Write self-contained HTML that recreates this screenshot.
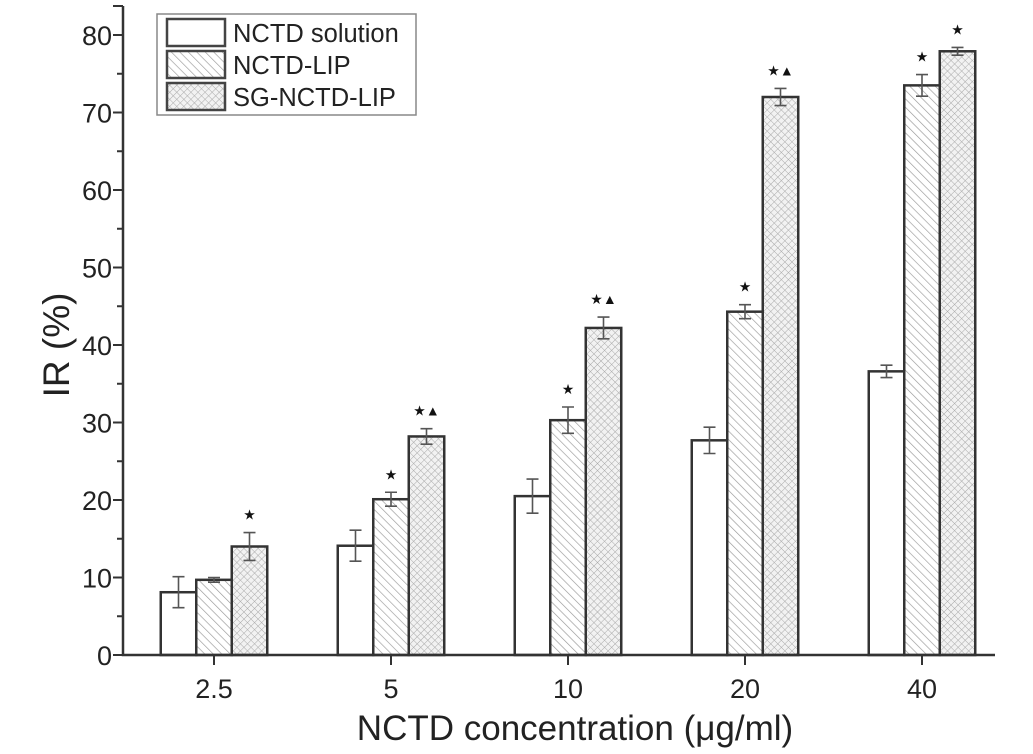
<!DOCTYPE html>
<html><head><meta charset="utf-8"><style>
html,body{margin:0;padding:0;background:#fff;}
svg{display:block;font-family:"Liberation Sans",Arial,sans-serif;}
</style></head><body>
<svg id="chart" width="1033" height="754" viewBox="0 0 1033 754">
<defs>
<pattern id="diag" patternUnits="userSpaceOnUse" width="6" height="6" patternTransform="rotate(-45)">
<rect width="6" height="6" fill="#fff"/><line x1="0" y1="0" x2="0" y2="6" stroke="#999" stroke-width="1.3"/>
</pattern>
<pattern id="cross" patternUnits="userSpaceOnUse" width="5" height="5" patternTransform="rotate(45)">
<rect width="5" height="5" fill="#f2f2f2"/><path d="M0 0V5M0 0H5" stroke="#aaa" stroke-width="1"/>
</pattern>
</defs>
<g id="plot"></g>
<g>
<rect x="157" y="14" width="259" height="101" fill="#fff" stroke="#888" stroke-width="1.5"/>
<rect x="167" y="19" width="58" height="27" fill="#fff" stroke="#444" stroke-width="2.5"/>
<text x="233" y="42" font-size="25.5" fill="#222">NCTD solution</text>
<rect x="167" y="51" width="58" height="27" fill="url(#diag)" stroke="#444" stroke-width="2.5"/>
<text x="233" y="74" font-size="25.5" fill="#222">NCTD-LIP</text>
<rect x="167" y="83" width="58" height="27" fill="url(#cross)" stroke="#444" stroke-width="2.5"/>
<text x="233" y="106" font-size="25.5" fill="#222">SG-NCTD-LIP</text>
</g>
<text transform="translate(69,345) rotate(-90)" text-anchor="middle" font-size="37" fill="#222">IR (%)</text>
<text x="575" y="740" text-anchor="middle" font-size="35" fill="#222">NCTD concentration (μg/ml)</text>
</svg>
<script>
const categories=["2.5","5","10","20","40"];
const solution=[8.1,14.1,20.5,27.7,36.6];
const solutionErr=[2,2,2.2,1.7,0.8];
const lip=[9.7,20.1,30.3,44.3,73.5];
const lipErr=[0.3,0.9,1.7,0.9,1.4];
const sg=[14,28.2,42.2,72,77.9];
const sgErr=[1.8,1,1.4,1.1,0.5];
const lipMarks=["","★","★","★","★"];
const sgMarks=["★","★▲","★▲","★▲","★"];
const yTicks=[0,10,20,30,40,50,60,70,80];

const ns="http://www.w3.org/2000/svg";
const g=document.getElementById('plot');
const y0=655,pxPer=7.75,xL=123,xR=995;
const y=v=>y0-v*pxPer;
const x=i=>214+i*177;
const bw=35.5;
function mk(t,a){const e=document.createElementNS(ns,t);for(const k in a)e.setAttribute(k,a[k]);g.appendChild(e);return e;}
const series=[[solution,solutionErr,"#fff","bar-solution"],[lip,lipErr,"url(#diag)","bar-lip"],[sg,sgErr,"url(#cross)","bar-sg"]];
categories.forEach((c,i)=>{
 series.forEach((s,j)=>{
  const v=s[0][i],e=s[1][i],bx=x(i)+(j-1.5)*bw,cx=bx+bw/2;
  const r=mk('rect',{x:bx,y:y(v),width:bw,height:y0-y(v),fill:s[2],stroke:'#333','stroke-width':2.5});
  
  
  const eb=mk('path',{d:`M${cx} ${y(v+e)}V${y(v-e)}M${cx-6} ${y(v+e)}H${cx+6}M${cx-6} ${y(v-e)}H${cx+6}`,stroke:'#555','stroke-width':1.6,fill:'none'});
  
  
  let m=j==1?lipMarks[i]:j==2?sgMarks[i]:"";
  if(m){const t=mk('text',{x:cx,y:y(v+e)-13,'text-anchor':'middle','font-size':14,fill:'#111'});t.textContent=m;
   
   }
 });
 mk('line',{x1:x(i),x2:x(i),y1:y0,y2:y0+10,stroke:'#333','stroke-width':2});
 const t=mk('text',{x:x(i),y:698,'text-anchor':'middle','font-size':27,fill:'#222'});t.textContent=c;
 
 
});
for(let v=0;v<=80;v+=5){const major=v%10==0;mk('line',{x1:xL-(major?10:6),x2:xL,y1:y(v),y2:y(v),stroke:'#333','stroke-width':2});}
yTicks.forEach(v=>{const t=mk('text',{x:xL-11,y:y(v)+10,'text-anchor':'end','font-size':27,fill:'#222'});t.textContent=v;
 
 });
const ax=mk('path',{d:`M${xL} 6V${y0}H${xR}`,stroke:'#333','stroke-width':2.5,fill:'none'});


mk('line',{x1:xL-10,x2:xL,y1:6,y2:6,stroke:'#333','stroke-width':2});
</script>
</body></html>
